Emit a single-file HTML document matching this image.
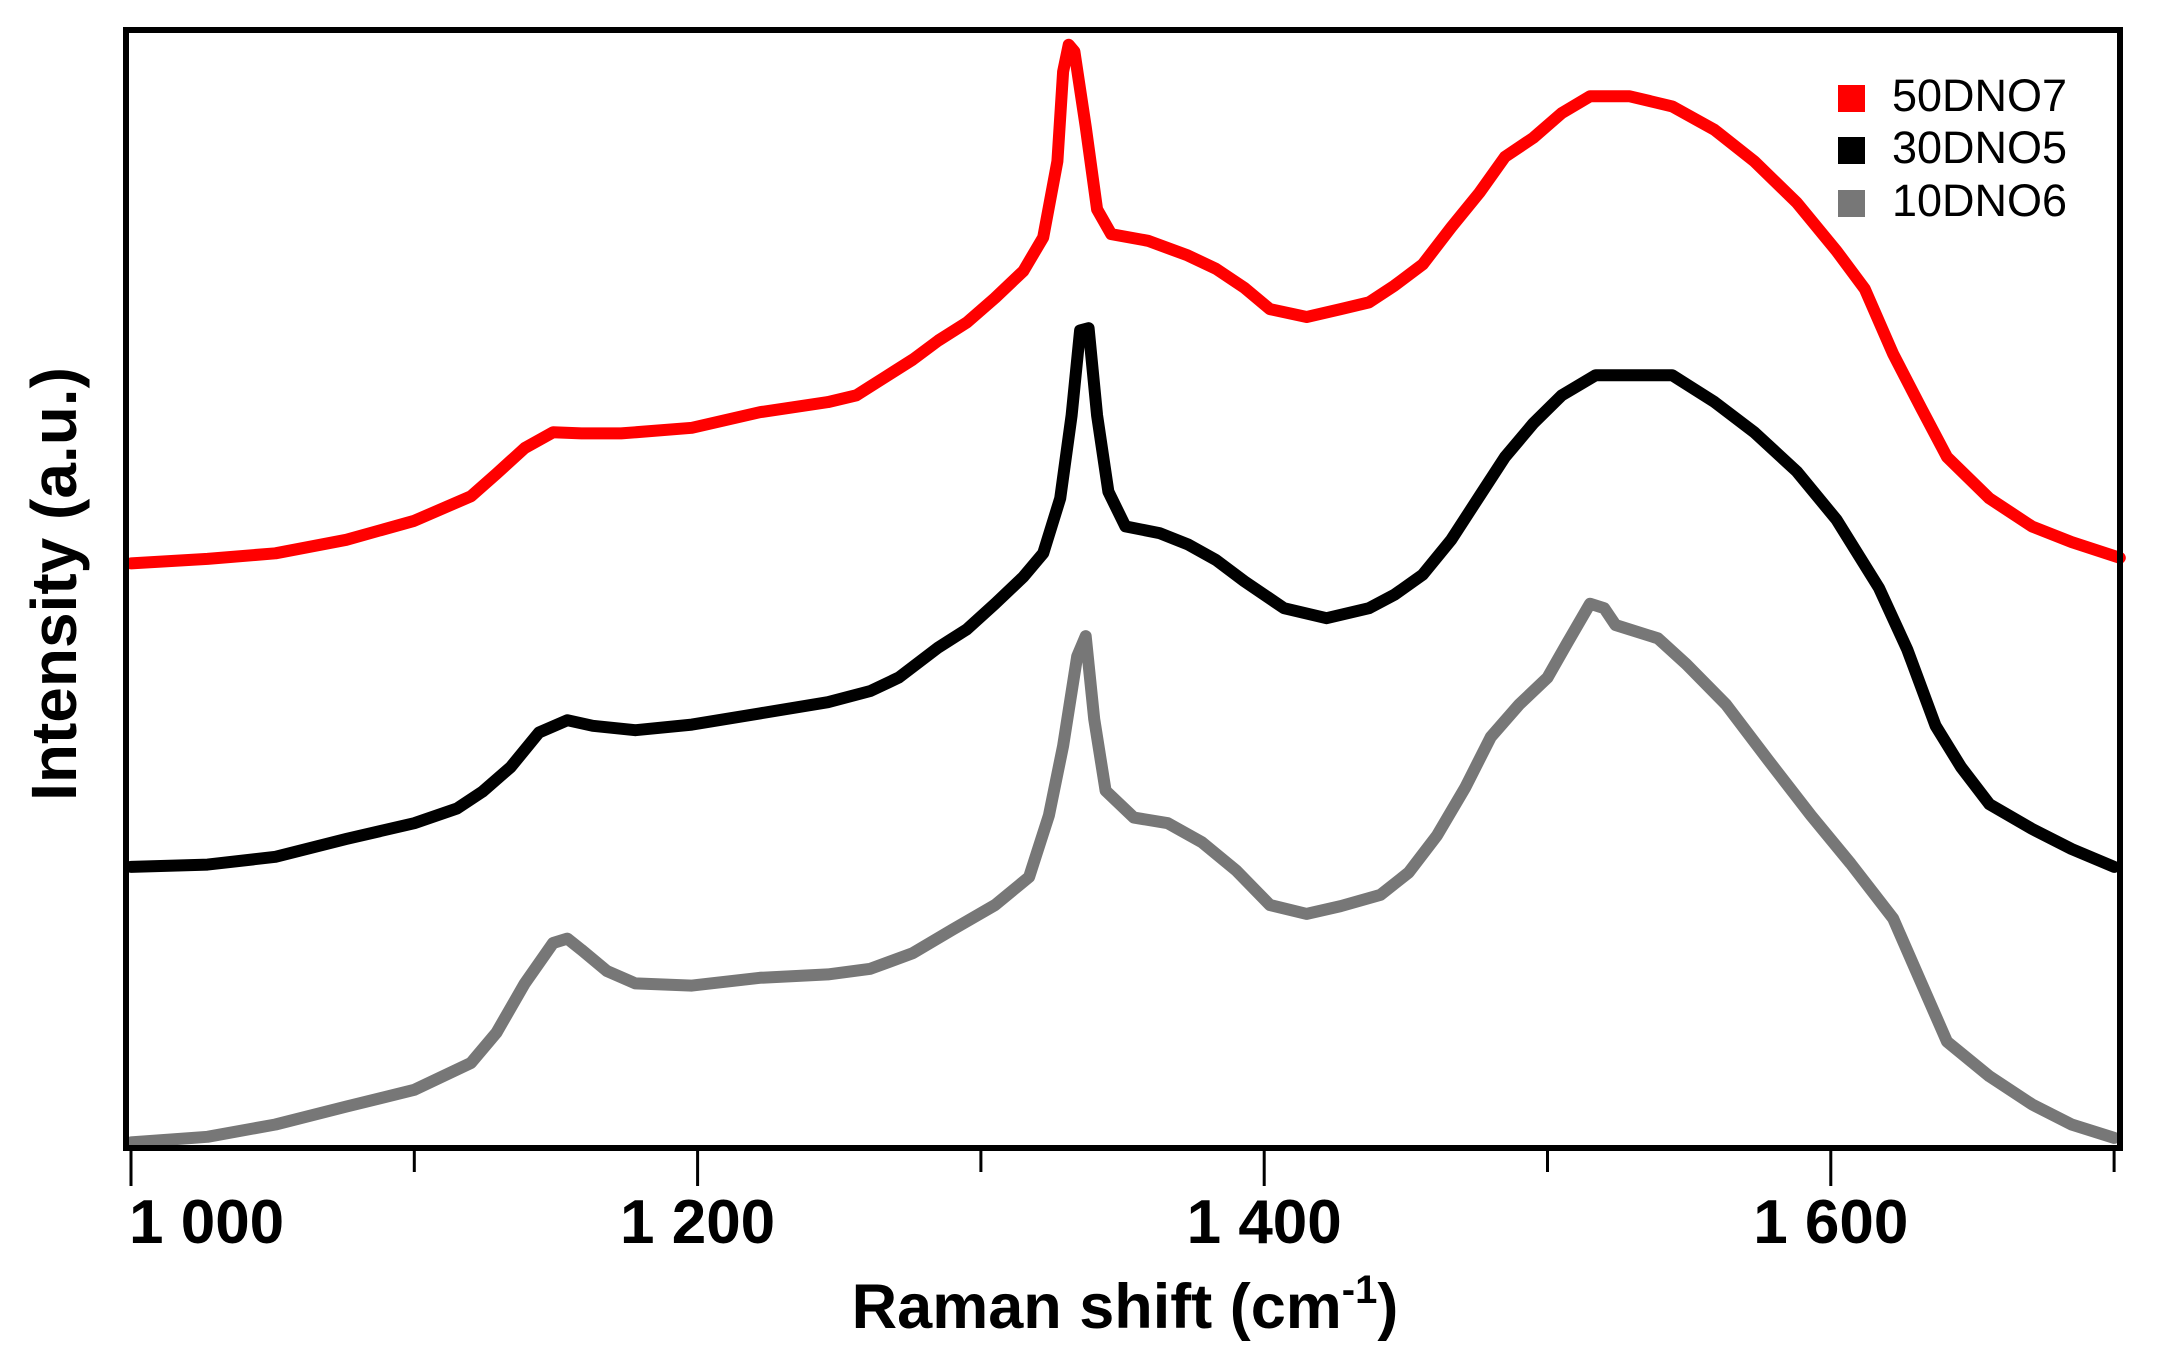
<!DOCTYPE html>
<html><head><meta charset="utf-8"><style>
html,body{margin:0;padding:0;background:#fff;}
svg{display:block;font-family:"Liberation Sans",Arial,sans-serif;}
</style></head><body>
<svg id="chart" width="2160" height="1345" viewBox="0 0 2160 1345">
<g id="series"></g>
<rect x="126" y="30" width="1994" height="1118" fill="none" stroke="#000" stroke-width="6"/>
<g id="ticks"></g>
<text x="1125" y="1328" text-anchor="middle" font-size="63" font-weight="bold">Raman shift (cm<tspan dy="-25" font-size="40">-1</tspan><tspan dy="25">)</tspan></text>
<text transform="translate(76,584) rotate(-90)" text-anchor="middle" font-size="64" font-weight="bold">Intensity (a.u.)</text>
<g>
<rect x="1838" y="85" width="27" height="27" fill="#ff0000"/>
<text x="1892" y="111" font-size="45">50DNO7</text>
<rect x="1838" y="137" width="27" height="27" fill="#000"/>
<text x="1892" y="163" font-size="45">30DNO5</text>
<rect x="1838" y="190" width="27" height="27" fill="#777"/>
<text x="1892" y="216" font-size="45">10DNO6</text>
</g>
</svg>
<script>
const majorTicks = [1000, 1200, 1400, 1600];
const majorLabels = ["1 000", "1 200", "1 400", "1 600"];
const minorTicks = [1100, 1300, 1500, 1700];
const redX = [1000,1027,1051,1076,1100,1120,1129,1139,1149,1159,1173,1198,1222,1246,1256,1266,1276,1285,1295,1305,1315,1322,1327,1329,1331,1333,1337,1341,1346,1359,1373,1383,1393,1402,1415,1427,1437,1446,1456,1466,1476,1485,1495,1505,1515,1529,1544,1559,1573,1588,1602,1612,1622,1632,1641,1656,1671,1685,1702];
const redY = [52.2,52.6,53.1,54.3,56.0,58.2,60.2,62.5,63.9,63.8,63.8,64.3,65.7,66.6,67.2,68.8,70.4,72.1,73.7,75.9,78.3,81.3,88.1,96.1,98.5,97.9,91.2,83.8,81.6,81.0,79.7,78.5,76.8,74.9,74.2,74.9,75.5,77.0,78.9,82.2,85.3,88.5,90.2,92.4,93.9,93.9,93.0,90.9,88.1,84.4,80.1,76.7,70.9,66.0,61.7,58.0,55.5,54.1,52.7];
const blackX = [1000,1027,1051,1076,1100,1115,1124,1134,1144,1154,1163,1178,1198,1222,1246,1261,1271,1285,1295,1305,1315,1322,1328,1332,1335,1338,1341,1345,1351,1363,1373,1383,1393,1407,1422,1437,1446,1456,1466,1476,1485,1495,1505,1517,1532,1544,1559,1573,1588,1602,1617,1627,1637,1646,1656,1671,1685,1700];
const blackY = [25.1,25.3,26.0,27.6,29.0,30.3,31.8,34.0,37.1,38.2,37.7,37.3,37.8,38.8,39.8,40.8,42.0,44.7,46.3,48.6,51.0,53.1,58.0,65.4,73.0,73.2,65.4,58.6,55.5,54.9,53.9,52.5,50.6,48.2,47.3,48.2,49.4,51.2,54.3,58.2,61.7,64.7,67.2,69.0,69.0,69.0,66.6,63.9,60.4,56.1,50.0,44.5,37.7,34.0,30.7,28.5,26.7,25.1];
const greyX = [1000,1027,1051,1076,1100,1120,1129,1139,1149,1154,1159,1168,1178,1198,1222,1246,1261,1276,1290,1305,1317,1324,1329,1334,1337,1340,1344,1354,1366,1378,1390,1402,1415,1427,1441,1451,1461,1471,1480,1490,1500,1507,1515,1520,1524,1539,1549,1563,1578,1593,1607,1622,1632,1641,1656,1671,1685,1700];
const greyY = [0.5,1.0,2.1,3.7,5.2,7.6,10.3,14.7,18.3,18.7,17.7,15.8,14.7,14.5,15.2,15.5,16.0,17.4,19.5,21.7,24.2,29.7,35.9,43.9,45.7,38.3,31.9,29.5,29.0,27.3,24.8,21.7,20.9,21.6,22.6,24.6,27.9,32.2,36.7,39.6,42.0,45.1,48.6,48.2,46.7,45.5,43.2,39.6,34.6,29.7,25.4,20.5,14.7,9.5,6.4,3.9,2.1,0.9];

const NS = "http://www.w3.org/2000/svg";
function xScale(v){ return 131 + (v - 1000) * 2.833; }
function yScale(v){ return 1148 - v / 100 * 1120; }

const sg = document.getElementById('series');
function drawSeries(xs, ys, color, name){
  const p = document.createElementNS(NS, 'path');
  let d = '';
  for (let i = 0; i < xs.length; i++) d += (i ? 'L' : 'M') + xScale(xs[i]).toFixed(1) + ',' + yScale(ys[i]).toFixed(1);
  p.setAttribute('d', d);
  p.setAttribute('fill', 'none');
  p.setAttribute('stroke', color);
  p.setAttribute('stroke-width', '12');
  p.setAttribute('stroke-linejoin', 'round');
  p.setAttribute('stroke-linecap', 'round');
  
  
  sg.appendChild(p);
}
drawSeries(greyX, greyY, '#777777', 'line-10dno6');
drawSeries(blackX, blackY, '#000000', 'line-30dno5');
drawSeries(redX, redY, '#ff0000', 'line-50dno7');

const tg = document.getElementById('ticks');
majorTicks.forEach((v, i) => {
  const x = xScale(v);
  const l = document.createElementNS(NS, 'line');
  l.setAttribute('x1', x); l.setAttribute('x2', x);
  l.setAttribute('y1', 1148); l.setAttribute('y2', 1186);
  l.setAttribute('stroke', '#000'); l.setAttribute('stroke-width', '3');
  
  
  tg.appendChild(l);
  const t = document.createElementNS(NS, 'text');
  t.setAttribute('x', i === 0 ? x - 2 : x);
  t.setAttribute('y', 1243);
  t.setAttribute('text-anchor', i === 0 ? 'start' : 'middle');
  t.setAttribute('font-size', '62');
  t.setAttribute('font-weight', 'bold');
  t.textContent = majorLabels[i];
  
  
  tg.appendChild(t);
});
minorTicks.forEach(v => {
  const x = xScale(v);
  const l = document.createElementNS(NS, 'line');
  l.setAttribute('x1', x); l.setAttribute('x2', x);
  l.setAttribute('y1', 1148); l.setAttribute('y2', 1172);
  l.setAttribute('stroke', '#000'); l.setAttribute('stroke-width', '3');
  
  
  tg.appendChild(l);
});
</script>
</body></html>
